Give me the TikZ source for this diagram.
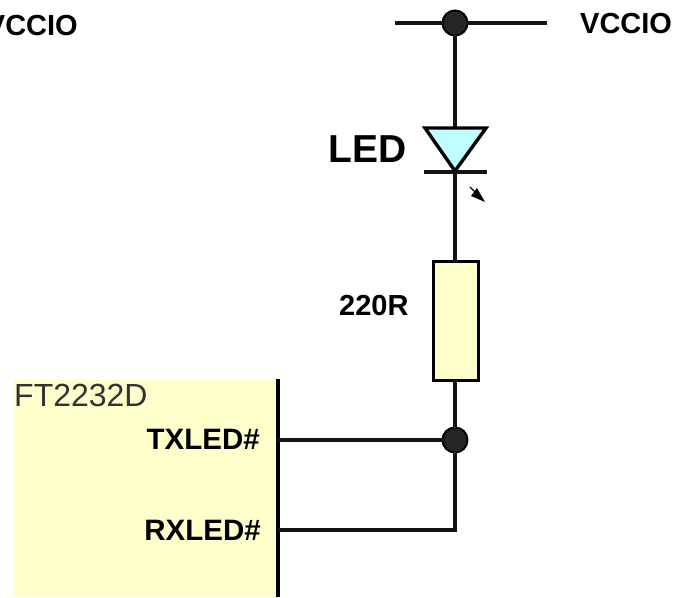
\documentclass[tikz,border=0pt]{standalone}
\usepackage{fontspec}
\setmainfont{Liberation Sans}
\definecolor{chipfill}{RGB}{255,255,204}
\definecolor{ledfill}{RGB}{191,255,255}
\tikzset{
  wire/.style={line width=3.4pt,draw=black!92},
  junction/.style={circle,fill=black!85,draw=black,line width=2pt,minimum size=25pt,inner sep=0pt,outer sep=-2pt},
  lab/.style={font=\bfseries\fontsize{29}{32}\selectfont,text=black,inner sep=0pt},
  pinlab/.style={font=\bfseries\fontsize{29.5}{32}\selectfont,text=black,inner sep=0pt,anchor=east},
}
\begin{document}
\begin{tikzpicture}[x=1pt,y=-1pt]
\useasboundingbox (0,0) rectangle (690,597);
\fill[white] (0,0) rectangle (690,597);
\fill[chipfill] (14,379) rectangle (278,597);
\coordinate (chipT) at (278,379);
\coordinate (chipB) at (278,597);
\draw[line width=4.6pt] (chipT) -- (chipB);
\coordinate (busL) at (395,23);
\coordinate (busR) at (547,23);
\node[junction] (topdot) at (455,23) {};
\coordinate (triL) at (425,128);
\coordinate (triR) at (486,128);
\coordinate (triA) at (455,171);
\coordinate (barL) at (424,172);
\coordinate (barR) at (487,172);
\node[draw=black,line width=3.2pt,fill=chipfill,minimum width=45pt,minimum height=119pt,inner sep=0pt] (res) at (456,321) {};
\node[junction] (botdot) at (455,440) {};
\coordinate (tx) at (278,440);
\coordinate (rx) at (278,530);
\coordinate (rxc) at (455,530);
\draw[wire] (busL) -- (topdot);
\draw[wire] (topdot) -- (busR);
\draw[wire] (topdot) -- (455,128);
\draw[wire] (455,172) -- (455,262);
\draw[wire] (455,380) -- (botdot);
\draw[wire] (tx) -- (botdot);
\draw[wire,line join=miter] (rx) -- (rxc) -- (botdot);
\draw[line width=3.4pt,line join=miter,fill=ledfill] (triL) -- (triR) -- (triA) -- cycle;
\draw[wire] (barL) -- (barR);
\coordinate (arS) at (470,187);
\coordinate (arE) at (485,202);
\draw[line width=1.2pt] (arS) -- (478,195);
\fill (arE) -- (471,196) -- (477,188) -- cycle;
\node[lab,anchor=east] (vl) at (78,26) {VCCIO};
\node[lab,anchor=west] (vr) at (580,24) {VCCIO};
\node[anchor=west,inner sep=0pt,font=\bfseries\fontsize{39}{42}\selectfont] (led) at (328,149) {LED};
\node[lab,anchor=west] (r) at (339,306) {220R};
\node[anchor=west,inner sep=0pt,font=\fontsize{32}{34}\selectfont,text=black!80] (ft) at (14,395) {FT2232D};
\node[pinlab] (txl) at (260,439) {TXLED\#};
\node[pinlab] (rxl) at (261,530) {RXLED\#};
\end{tikzpicture}
\end{document}
